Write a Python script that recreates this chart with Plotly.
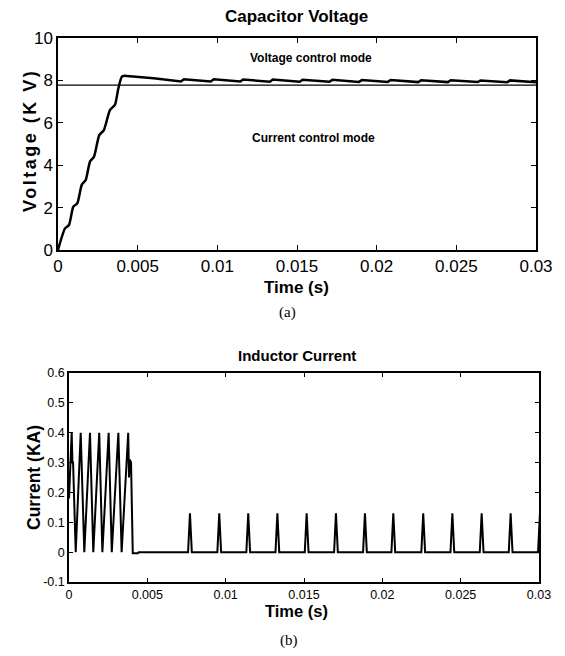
import plotly.graph_objects as go

# page body has an 8px default margin; work in window pixels and compensate
OFF = 8
W, H = 557, 648

# ---------------- data: capacitor voltage (kV) ----------------
v_time = [0, 0.00044, 0.00069, 0.00096, 0.00121, 0.00149, 0.00174, 0.00201, 0.00226,
          0.00259, 0.00288, 0.00326, 0.00358, 0.00378, 0.0040, 0.00414]
v_kv = [0, 1.02, 1.18, 2.04, 2.2, 3.07, 3.3, 4.17, 4.4,
        5.42, 5.66, 6.6, 6.86, 7.6, 8.17, 8.22]

v2_time = [0.00414, 0.0045, 0.0060, 0.00772, 0.0079, 0.00959, 0.00977, 0.01144, 0.01162,
           0.0133, 0.01348, 0.01517, 0.01535, 0.01704, 0.01722, 0.01889, 0.01907,
           0.0207, 0.02088, 0.02261, 0.02279, 0.02447, 0.02465, 0.02634, 0.02652,
           0.02819, 0.02837, 0.02998, 0.03]
v2_kv = [8.22, 8.2, 8.1, 7.95, 8.05, 7.95, 8.05, 7.95, 8.04,
         7.94, 8.04, 7.94, 8.03, 7.94, 8.03, 7.93, 8.02,
         7.93, 8.02, 7.92, 8.01, 7.92, 8.01, 7.92, 8.0,
         7.91, 8.0, 7.91, 7.92]

mode_threshold_time = [0, 0.03]
mode_threshold_kv = [7.78, 7.78]

# ---------------- data: inductor current (kA) ----------------
i_time = [0, 0.000172, 0.00022, 0.00026, 0.000428, 0.000747, 0.000977, 0.00134, 0.00155,
          0.00193, 0.00213, 0.00253, 0.00273, 0.00315, 0.00336, 0.00378, 0.00383,
          0.00389, 0.00396, 0.00407, 0.0044, 0.00445]
i_ka = [0.18, 0.4, 0.3, 0.3, 0, 0.4, 0, 0.4, 0,
        0.4, 0, 0.4, 0, 0.4, 0, 0.4, 0.25,
        0.31, 0.30, -0.004, -0.004, 0]

spike_time = [0.00772, 0.00959, 0.01144, 0.0133, 0.01517, 0.01704, 0.01889,
              0.0207, 0.02261, 0.02447, 0.02634, 0.02819, 0.03006]
spike_ka = [0.13, 0.13, 0.13, 0.13, 0.13, 0.13, 0.13,
            0.13, 0.13, 0.13, 0.13, 0.13, 0.13]

x_ticks = [0, 0.005, 0.01, 0.015, 0.02, 0.025, 0.03]
x_tick_labels = ["0", "0.005", "0.01", "0.015", "0.02", "0.025", "0.03"]
v_ticks = [0, 2, 4, 6, 8, 10]
i_ticks = [-0.1, 0, 0.1, 0.2, 0.3, 0.4, 0.5, 0.6]
i_tick_labels = ["-0.1", "0", "0.1", "0.2", "0.3", "0.4", "0.5", "0.6"]

# build full current waveform from read values
half_w = 0.00012
cur_t = list(i_time)
cur_v = list(i_ka)
for t, p in zip(spike_time, spike_ka):
    cur_t += [t - half_w, t, t + half_w]
    cur_v += [0, p, 0]

FONT = "Liberation Sans, Arial, Helvetica, sans-serif"
SERIF = "Liberation Serif, Times New Roman, serif"

fig = go.Figure()
fig.add_trace(go.Scatter(x=v_time, y=v_kv, mode="lines", xaxis="x", yaxis="y",
                         line=dict(color="black", width=2.5, shape="spline", smoothing=0.6),
                         showlegend=False))
fig.add_trace(go.Scatter(x=v2_time, y=v2_kv, mode="lines", xaxis="x", yaxis="y",
                         line=dict(color="black", width=2.5), showlegend=False))
fig.add_trace(go.Scatter(x=mode_threshold_time, y=mode_threshold_kv, mode="lines",
                         xaxis="x", yaxis="y", line=dict(color="black", width=1.3),
                         showlegend=False))
fig.add_trace(go.Scatter(x=cur_t, y=cur_v, mode="lines", xaxis="x2", yaxis="y2",
                         line=dict(color="black", width=2), showlegend=False))

axis_common = dict(showline=True, linecolor="black", linewidth=1.5, mirror="ticks",
                   ticks="inside", tickcolor="black", showgrid=False, zeroline=False,
                   fixedrange=True, automargin=False)

def px(x):
    return (x - OFF) / W

def py(y):
    return 1 - (y - OFF) / H

fig.update_layout(
    template="none",
    width=W, height=H,
    margin=dict(l=0, r=0, t=0, b=0, pad=0),
    paper_bgcolor="white", plot_bgcolor="white",
    font=dict(family=FONT, color="black"),
    xaxis=dict(domain=[px(58), px(536)], range=[0, 0.03], anchor="y",
               tickvals=x_ticks, ticktext=x_tick_labels, ticklen=5,
               tickfont=dict(size=17, family=FONT), **axis_common),
    yaxis=dict(domain=[py(250), py(38)], range=[0, 10], anchor="x",
               tickvals=v_ticks, ticklen=5,
               tickfont=dict(size=17, family=FONT), **axis_common),
    xaxis2=dict(domain=[px(69), px(539)], range=[0, 0.03], anchor="y2",
                tickvals=x_ticks, ticktext=x_tick_labels, ticklen=4,
                tickfont=dict(size=12.5, family=FONT), **axis_common),
    yaxis2=dict(domain=[py(582), py(373)], range=[-0.1, 0.6], anchor="x2",
                tickvals=i_ticks, ticktext=i_tick_labels, ticklen=4,
                tickfont=dict(size=12.5, family=FONT), **axis_common),
)

def ann(text, x, y, size, bold=True, angle=0, family=FONT):
    t = f"<b>{text}</b>" if bold else text
    fig.add_annotation(text=t, x=px(x), y=py(y), xref="paper", yref="paper",
                       xanchor="center", yanchor="middle", showarrow=False,
                       textangle=angle, borderpad=0,
                       font=dict(size=size, family=family, color="black"))

ann("Capacitor Voltage", 297, 16, 17)
ann("Voltage control mode", 311, 58, 12)
ann("Current control mode", 313, 138, 12)
ann('<span style="letter-spacing:2.5px">Voltage (K V)</span>', 30, 141, 18, angle=-90)
ann("Time (s)", 297, 287, 17)
ann("(a)", 287, 312, 15, bold=False, family=SERIF)
ann("Inductor Current", 297, 355, 15)
ann("Current (KA)", 34, 478, 17.5, angle=-90)
ann("Time (s)", 297, 611, 16.5)
ann("(b)", 289, 640, 15, bold=False, family=SERIF)

fig.write_html("out.html")
